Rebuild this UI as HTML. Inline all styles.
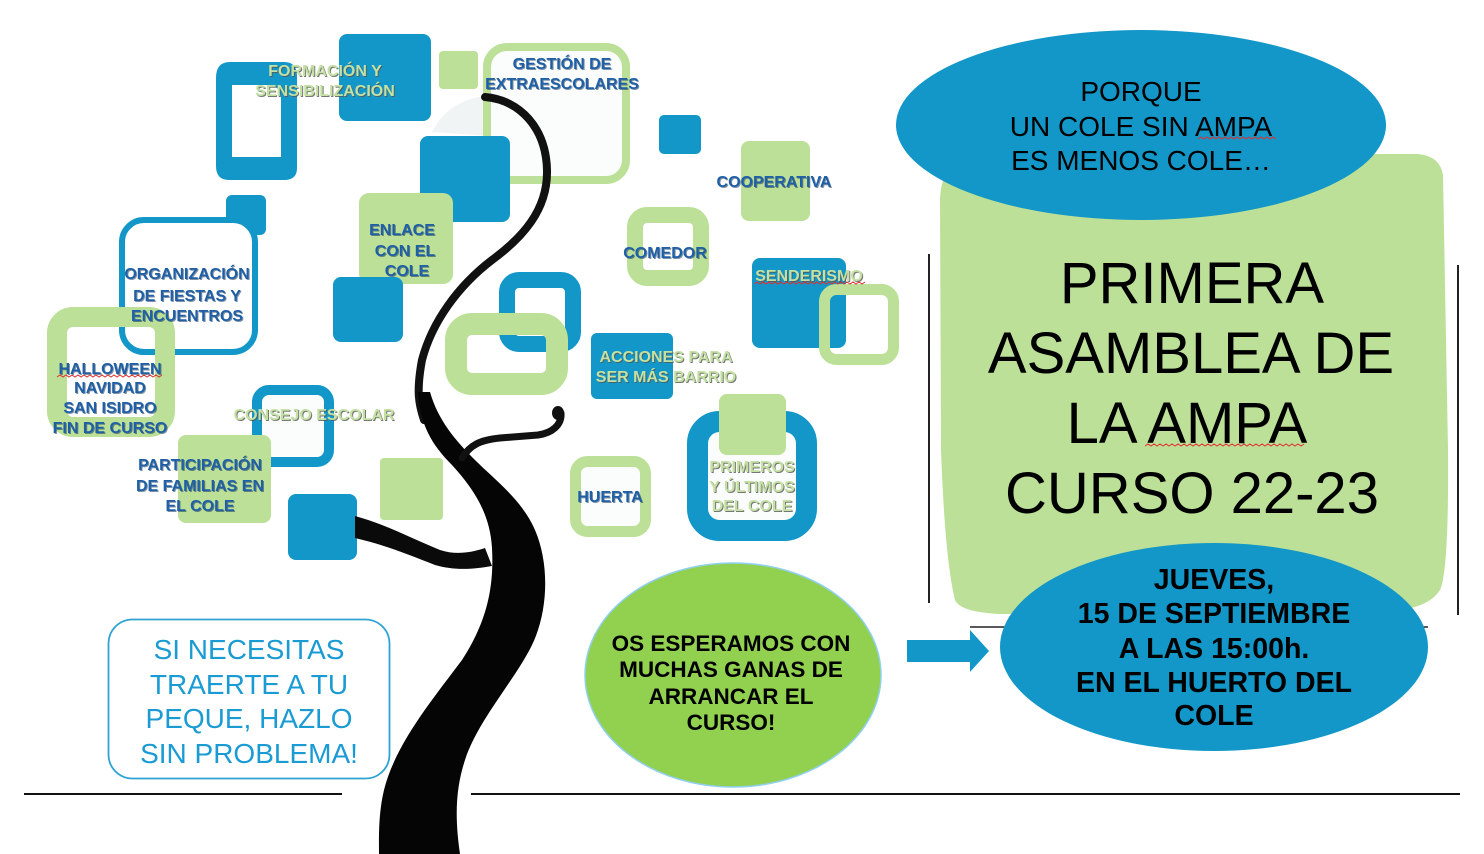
<!DOCTYPE html>
<html><head><meta charset="utf-8"><style>
html,body{margin:0;padding:0;background:#fff;}
body{width:1484px;height:854px;overflow:hidden;}
svg{display:block;}
text{font-family:"Liberation Sans",Arial,sans-serif;}
.lb{font-size:16px;font-weight:bold;text-anchor:middle;fill:#1f5fa6;}
.lbs{font-size:16px;font-weight:bold;text-anchor:middle;fill:#17385e;opacity:.55;}
.lg{font-size:16px;font-weight:bold;text-anchor:middle;fill:#c4e1a3;}
.lgs{font-size:16px;font-weight:bold;text-anchor:middle;fill:#555;opacity:.8;}
</style></head><body>
<svg width="1484" height="854" viewBox="0 0 1484 854" xmlns="http://www.w3.org/2000/svg">
<rect x="0" y="0" width="1484" height="854" fill="#fff"/>

<!-- FORMACION frame -->
<path fill-rule="evenodd" fill="#1297c8" d="M230,62 H284 Q297,62 297,76 V168 Q297,180 284,180 H229 Q216,180 216,166 V78 Q216,62 230,62 Z M232,85 V157 H281 V100 Q281,85 268,85 Z"/>
<!-- blue top square -->
<rect x="339" y="34" width="92" height="87" rx="8" fill="#1297c8"/>
<!-- small green -->
<rect x="439" y="51" width="39" height="38" rx="4" fill="#bce097"/>
<!-- pale quarter -->
<path d="M432,132 Q446,104 478,97 L490,97 L490,136 Z" fill="#f1f4f4"/>
<!-- GESTION frame -->
<rect x="487" y="47" width="139" height="133" rx="20" fill="#fbfcfc" stroke="#bce097" stroke-width="8"/>

<!-- tree thin top line -->
<path d="M485,97 C520,100 546,128 547,170 C548,210 522,238 492,260 C458,286 432,322 422,360 C416,392 419,405 424,420" fill="none" stroke="#111" stroke-width="8" stroke-linecap="round"/>

<!-- blue square over gestion -->
<rect x="420" y="136" width="90" height="86" rx="8" fill="#1297c8"/>

<!-- small blue square -->
<rect x="659" y="115" width="42" height="39" rx="5" fill="#1297c8"/>
<!-- cooperativa green -->
<rect x="741" y="141" width="69" height="80" rx="8" fill="#bce097"/>

<!-- small blue near organizacion -->
<rect x="226" y="195" width="40" height="40" rx="6" fill="#1297c8"/>
<!-- ORGANIZACION frame -->
<rect x="122" y="220" width="133" height="132" rx="22" fill="#fff" stroke="#1297c8" stroke-width="6"/>
<!-- HALLOWEEN frame -->
<rect x="57" y="317" width="108" height="110" rx="16" fill="none" stroke="#bce097" stroke-width="20"/>

<!-- ENLACE green -->
<rect x="359" y="193" width="94" height="91" rx="10" fill="#bce097"/>
<!-- blue below enlace -->
<rect x="333" y="277" width="70" height="65" rx="8" fill="#1297c8"/>

<!-- middle blue frame -->
<rect x="507" y="280" width="66" height="64" rx="12" fill="none" stroke="#1297c8" stroke-width="16"/>
<!-- big green frame -->
<rect x="456" y="324" width="101" height="60" rx="16" fill="none" stroke="#bce097" stroke-width="22"/>

<!-- COMEDOR frame -->
<rect x="635" y="215" width="66" height="63" rx="12" fill="none" stroke="#bce097" stroke-width="16"/>

<!-- senderismo blue -->
<rect x="752" y="258" width="94" height="90" rx="8" fill="#1297c8"/>
<!-- senderismo green frame -->
<rect x="824.5" y="289.5" width="69" height="70" rx="12" fill="none" stroke="#bce097" stroke-width="11"/>

<!-- acciones blue -->
<rect x="591" y="333" width="82" height="66" rx="6" fill="#1297c8"/>

<!-- CONSEJO frame -->
<rect x="257" y="390" width="72" height="72" rx="12" fill="#fbfcfc" stroke="#1297c8" stroke-width="10"/>
<!-- participacion green -->
<rect x="178" y="435" width="93" height="88" rx="8" fill="#bce097"/>
<!-- green small mid -->
<rect x="380" y="458" width="63" height="62" rx="4" fill="#bce097"/>
<!-- blue bottom -->
<rect x="288" y="494" width="69" height="66" rx="8" fill="#1297c8"/>

<!-- HUERTA frame -->
<rect x="575.5" y="461.5" width="70" height="70" rx="12" fill="#fbfcfc" stroke="#bce097" stroke-width="11"/>
<!-- PRIMEROS frame -->
<rect x="697.5" y="421.5" width="109" height="109" rx="22" fill="#fbfcfc" stroke="#1297c8" stroke-width="21"/>
<rect x="719" y="394" width="67" height="61" rx="8" fill="#bce097"/>

<!-- trunk -->
<path fill="#050505" d="M418,392 C420,425 432,445 452,465 C472,487 490,512 492,548 C494,585 488,620 462,660 C432,700 395,745 384,790 C378,815 379,840 379,854 L460,854 C455,820 455,790 465,760 C478,720 515,680 532,645 C548,612 550,565 535,530 C522,500 495,480 475,460 C455,440 438,420 430,392 Z"/>
<!-- left branch -->
<path fill="#0a0a0a" d="M355,516 C385,524 415,540 440,550 C455,555 470,553 485,548 L492,566 C470,570 452,570 435,565 C410,555 385,545 355,538 Z"/>
<!-- right branch -->
<path d="M462,458 C470,445 480,440 500,438 L538,435 C552,433 562,425 561,413" fill="none" stroke="#111" stroke-width="7" stroke-linecap="round"/>
<ellipse cx="558" cy="413" rx="6" ry="7" fill="#111"/>

<!-- labels: blue -->
<g>
<text class="lbs" x="563" y="70">GESTIÓN DE</text><text class="lb" x="562" y="69">GESTIÓN DE</text>
<text class="lbs" x="563" y="90">EXTRAESCOLARES</text><text class="lb" x="562" y="89">EXTRAESCOLARES</text>
<text class="lbs" x="188" y="280">ORGANIZACIÓN</text><text class="lb" x="187" y="279">ORGANIZACIÓN</text>
<text class="lbs" x="188" y="302">DE FIESTAS Y</text><text class="lb" x="187" y="301">DE FIESTAS Y</text>
<text class="lbs" x="188" y="322">ENCUENTROS</text><text class="lb" x="187" y="321">ENCUENTROS</text>
<text class="lbs" x="111" y="375">HALLOWEEN</text><text class="lb" x="110" y="374">HALLOWEEN</text>
<text class="lbs" x="111" y="394">NAVIDAD</text><text class="lb" x="110" y="393">NAVIDAD</text>
<text class="lbs" x="111" y="414">SAN ISIDRO</text><text class="lb" x="110" y="413">SAN ISIDRO</text>
<text class="lbs" x="111" y="434">FIN DE CURSO</text><text class="lb" x="110" y="433">FIN DE CURSO</text>
<text class="lbs" x="403" y="236">ENLACE</text><text class="lb" x="402" y="235">ENLACE</text>
<text class="lbs" x="406" y="257">CON EL</text><text class="lb" x="405" y="256">CON EL</text>
<text class="lbs" x="408" y="277">COLE</text><text class="lb" x="407" y="276">COLE</text>
<text class="lbs" x="201" y="471">PARTICIPACIÓN</text><text class="lb" x="200" y="470">PARTICIPACIÓN</text>
<text class="lbs" x="201" y="492">DE FAMILIAS EN</text><text class="lb" x="200" y="491">DE FAMILIAS EN</text>
<text class="lbs" x="201" y="512">EL COLE</text><text class="lb" x="200" y="511">EL COLE</text>
<text class="lbs" x="775" y="188">COOPERATIVA</text><text class="lb" x="774" y="187">COOPERATIVA</text>
<text class="lbs" x="666" y="259">COMEDOR</text><text class="lb" x="665" y="258">COMEDOR</text>
<text class="lbs" x="611" y="503">HUERTA</text><text class="lb" x="610" y="502">HUERTA</text>
</g>
<!-- labels: green -->
<g>
<text class="lgs" x="326" y="77">FORMACIÓN Y</text><text class="lg" x="325" y="76">FORMACIÓN Y</text>
<text class="lgs" x="326" y="97">SENSIBILIZACIÓN</text><text class="lg" x="325" y="96">SENSIBILIZACIÓN</text>
<text class="lgs" x="315" y="421">CONSEJO ESCOLAR</text><text class="lg" x="314" y="420">CONSEJO ESCOLAR</text>
<text class="lgs" x="810" y="282">SENDERISMO</text><text class="lg" x="809" y="281">SENDERISMO</text>
<text class="lgs" x="667" y="363">ACCIONES PARA</text><text class="lg" x="666" y="362">ACCIONES PARA</text>
<text class="lgs" x="667" y="383">SER MÁS BARRIO</text><text class="lg" x="666" y="382">SER MÁS BARRIO</text>
<text class="lgs" x="753" y="473">PRIMEROS</text><text class="lg" x="752" y="472">PRIMEROS</text>
<text class="lgs" x="753" y="493">Y ÚLTIMOS</text><text class="lg" x="752" y="492">Y ÚLTIMOS</text>
<text class="lgs" x="753" y="512">DEL COLE</text><text class="lg" x="752" y="511">DEL COLE</text>
</g>
<!-- red squiggles -->
<path d="M57,377 l3,-2 l3,2 l3,-2 l3,2 l3,-2 l3,2 l3,-2 l3,2 l3,-2 l3,2 l3,-2 l3,2 l3,-2 l3,2 l3,-2 l3,2 l3,-2 l3,2 l3,-2 l3,2 l3,-2 l3,2 l3,-2 l3,2 l3,-2 l3,2 l3,-2 l3,2 l3,-2 l3,2 l3,-2 l3,2 l3,-2 l3,2 l3,-2" fill="none" stroke="#e03030" stroke-width="1"/>
<path d="M754,284 l3,-2 l3,2 l3,-2 l3,2 l3,-2 l3,2 l3,-2 l3,2 l3,-2 l3,2 l3,-2 l3,2 l3,-2 l3,2 l3,-2 l3,2 l3,-2 l3,2 l3,-2 l3,2 l3,-2 l3,2 l3,-2 l3,2 l3,-2 l3,2 l3,-2 l3,2 l3,-2 l3,2 l3,-2 l3,2 l3,-2 l3,2 l3,-2 l3,2 l3,-2" fill="none" stroke="#e03030" stroke-width="1"/>

<!-- bottom-left box -->
<rect x="108.5" y="619.5" width="281" height="159" rx="24" fill="#fff" stroke="#2ea3d3" stroke-width="1.8"/>
<g font-size="28" fill="#1a9bd3" text-anchor="middle">
<text x="249" y="659">SI NECESITAS</text>
<text x="249" y="694">TRAERTE A TU</text>
<text x="249" y="728">PEQUE, HAZLO</text>
<text x="249" y="763">SIN PROBLEMA!</text>
</g>

<!-- green ellipse -->
<ellipse cx="733" cy="675" rx="148" ry="112" fill="#92d050" stroke="#8fd0ee" stroke-width="1.5"/>
<g font-size="22.5" font-weight="bold" fill="#000" text-anchor="middle">
<text x="731" y="651">OS ESPERAMOS CON</text>
<text x="731" y="677">MUCHAS GANAS DE</text>
<text x="731" y="704">ARRANCAR EL</text>
<text x="731" y="730">CURSO!</text>
</g>

<!-- bottom lines -->
<line x1="24" y1="794" x2="342" y2="794" stroke="#111" stroke-width="2"/>
<line x1="471" y1="794" x2="1460" y2="794" stroke="#111" stroke-width="2"/>

<!-- right: green rect -->
<path fill="#bce097" d="M975,155 L1418,154 Q1440,156 1443,175 L1448,450 Q1449,570 1440,590 Q1430,606 1400,610 L1000,614 Q960,612 955,600 Q945,560 941,450 L940,200 Q941,160 975,155 Z"/>
<!-- vertical lines -->
<line x1="929" y1="254" x2="929" y2="603" stroke="#222" stroke-width="2"/>
<line x1="1458" y1="265" x2="1458" y2="615" stroke="#222" stroke-width="2"/>
<!-- horizontal line -->
<line x1="970" y1="627" x2="1428" y2="627" stroke="#222" stroke-width="1.5"/>

<!-- top ellipse -->
<ellipse cx="1141" cy="125" rx="245" ry="95" fill="#1297c8"/>
<g font-size="28" fill="#000" text-anchor="middle">
<text x="1141" y="101">PORQUE</text>
<text x="1141" y="136">UN COLE SIN AMPA</text>
<text x="1141" y="170">ES MENOS COLE…</text>
</g>
<path d="M1198,139 l3,-2 l3,2 l3,-2 l3,2 l3,-2 l3,2 l3,-2 l3,2 l3,-2 l3,2 l3,-2 l3,2 l3,-2 l3,2 l3,-2 l3,2 l3,-2 l3,2 l3,-2 l3,2 l3,-2 l3,2 l3,-2 l3,2 l3,-2 l3,2" fill="none" stroke="#e03030" stroke-width="1"/>

<!-- title -->
<g font-size="58" fill="#000" text-anchor="middle">
<text x="1192" y="303">PRIMERA</text>
<text x="1191" y="373">ASAMBLEA DE</text>
<text x="1187" y="443">LA AMPA</text>
<text x="1192" y="513">CURSO 22-23</text>
</g>
<path d="M1145,446 l3,-2 l3,2 l3,-2 l3,2 l3,-2 l3,2 l3,-2 l3,2 l3,-2 l3,2 l3,-2 l3,2 l3,-2 l3,2 l3,-2 l3,2 l3,-2 l3,2 l3,-2 l3,2 l3,-2 l3,2 l3,-2 l3,2 l3,-2 l3,2 l3,-2 l3,2 l3,-2 l3,2 l3,-2 l3,2 l3,-2 l3,2 l3,-2 l3,2 l3,-2 l3,2 l3,-2 l3,2 l3,-2 l3,2 l3,-2 l3,2 l3,-2 l3,2 l3,-2 l3,2 l3,-2 l3,2 l3,-2 l3,2 l3,-2" fill="none" stroke="#e03030" stroke-width="1"/>

<!-- arrow -->
<polygon points="907,640 970,640 970,630 989,651 970,672 970,662 907,662" fill="#1297c8"/>

<!-- bottom ellipse -->
<ellipse cx="1214" cy="647" rx="214" ry="104" fill="#1297c8"/>
<g font-size="28.5" font-weight="bold" fill="#000" text-anchor="middle">
<text x="1214" y="589">JUEVES,</text>
<text x="1214" y="623">15 DE SEPTIEMBRE</text>
<text x="1214" y="658">A LAS 15:00h.</text>
<text x="1214" y="692">EN EL HUERTO DEL</text>
<text x="1214" y="725">COLE</text>
</g>
</svg>
</body></html>
